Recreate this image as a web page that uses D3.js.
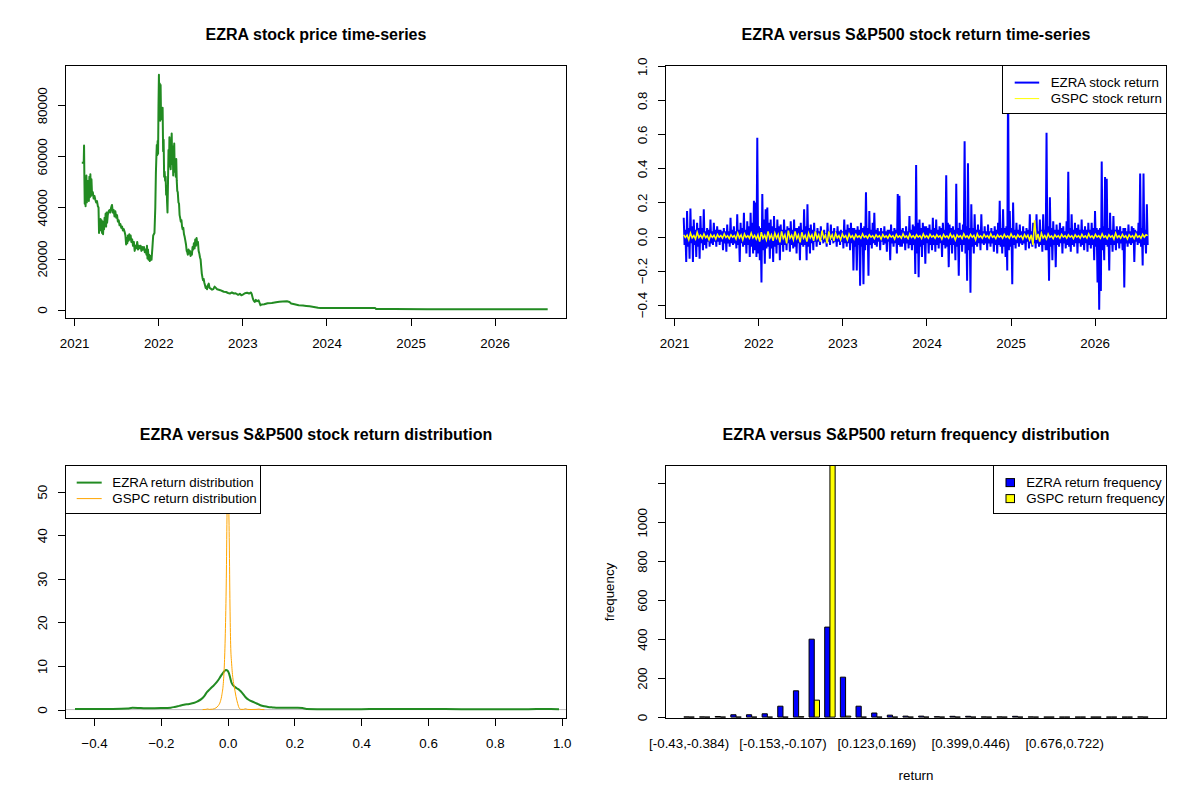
<!DOCTYPE html>
<html lang="en">
<head>
<meta charset="utf-8">
<title>EZRA vs S&amp;P500</title>
<script src="https://cdn.jsdelivr.net/npm/d3@7"></script>
<style>
  body { margin: 0; background: #fff; }
  svg text { font-family: "Liberation Sans", Arial, sans-serif; fill: #000; }
  .tick line { stroke: #000; shape-rendering: crispEdges; }
  .frame { fill: none; stroke: #000; stroke-width: 1; shape-rendering: crispEdges; }
</style>
</head>
<body>
<script>

// ---- data ----

// EZRA price, [decimal year, price]
var priceSeries = [
  [2021.091,57500],[2021.114,57500],[2021.118,64300],[2021.122,51500],[2021.126,41500],[2021.131,46000],
  [2021.136,40500],[2021.141,45500],[2021.146,52500],[2021.151,42000],[2021.157,48500],[2021.163,43000],
  [2021.169,50500],[2021.175,42500],[2021.181,52000],[2021.187,44000],[2021.193,53000],[2021.199,44500],
  [2021.206,51000],[2021.213,45000],[2021.222,46000],[2021.232,43500],[2021.242,44500],[2021.252,43000],
  [2021.262,42000],[2021.272,42500],[2021.282,40500],[2021.290,40000],[2021.296,30000],[2021.302,34000],
  [2021.308,31000],[2021.314,35500],[2021.320,33000],[2021.326,35000],[2021.332,30000],[2021.338,34500],
  [2021.344,29500],[2021.350,34000],[2021.356,31500],[2021.362,36000],[2021.368,33000],[2021.374,37500],
  [2021.380,32500],[2021.386,38000],[2021.392,34000],[2021.400,37000],[2021.410,38500],[2021.420,39000],
  [2021.430,38000],[2021.440,40000],[2021.450,41000],[2021.460,38000],[2021.470,39000],[2021.480,36500],
  [2021.490,38500],[2021.500,36000],[2021.510,37000],[2021.520,34500],[2021.530,35000],[2021.540,33000],
  [2021.550,33500],[2021.560,32000],[2021.570,32500],[2021.580,31000],[2021.590,31500],[2021.600,30500],
  [2021.610,29000],[2021.618,25500],[2021.625,28000],[2021.632,26000],[2021.640,29000],[2021.648,27000],
  [2021.656,29500],[2021.664,27500],[2021.672,29000],[2021.680,26500],[2021.690,27500],[2021.700,25000],
  [2021.710,26500],[2021.720,23000],[2021.730,25000],[2021.740,24000],[2021.750,26500],[2021.760,23500],
  [2021.770,25000],[2021.780,24000],[2021.790,25000],[2021.800,23000],[2021.810,24500],[2021.820,23500],
  [2021.830,24500],[2021.840,22500],[2021.850,23500],[2021.860,21500],[2021.866,25000],[2021.872,20000],
  [2021.878,23500],[2021.885,19500],[2021.892,21500],[2021.900,19000],[2021.910,21000],[2021.920,19500],
  [2021.930,24000],[2021.940,29000],[2021.955,30000],[2021.965,40000],[2021.972,53500],[2021.978,60000],
  [2021.983,64500],[2021.988,60500],[2021.993,66000],[2021.998,61000],[2022.003,80000],[2022.008,92000],
  [2022.013,77000],[2022.018,88500],[2022.023,74000],[2022.028,88000],[2022.033,76000],[2022.040,79000],
  [2022.046,74500],[2022.052,79000],[2022.058,62000],[2022.064,66500],[2022.070,52000],[2022.076,54000],
  [2022.082,50500],[2022.088,52000],[2022.094,45000],[2022.100,48500],[2022.105,42000],[2022.110,38000],
  [2022.116,50000],[2022.122,62500],[2022.128,56000],[2022.133,67500],[2022.138,58000],[2022.143,62000],
  [2022.148,55000],[2022.154,63000],[2022.160,69000],[2022.166,57000],[2022.172,64000],[2022.178,52500],
  [2022.184,60000],[2022.190,65000],[2022.196,54000],[2022.202,59000],[2022.208,52000],[2022.214,59000],
  [2022.220,50500],[2022.226,46500],[2022.232,46000],[2022.240,42000],[2022.247,41500],[2022.254,37000],
  [2022.260,36000],[2022.268,34500],[2022.276,35000],[2022.283,32500],[2022.290,31500],[2022.298,32000],
  [2022.306,29500],[2022.314,28500],[2022.322,27000],[2022.330,25500],[2022.338,23000],[2022.345,22500],
  [2022.352,21500],[2022.360,23500],[2022.368,22000],[2022.376,23000],[2022.384,21000],[2022.392,22500],
  [2022.400,21500],[2022.408,24500],[2022.416,23500],[2022.424,26000],[2022.432,24000],[2022.440,27500],
  [2022.448,25000],[2022.456,28000],[2022.464,25500],[2022.472,26500],[2022.480,23000],[2022.488,22000],
  [2022.496,20500],[2022.504,19500],[2022.510,17000],[2022.518,14000],[2022.526,12500],[2022.533,11500],
  [2022.540,12000],[2022.548,10500],[2022.556,9500],[2022.564,8500],[2022.572,9000],[2022.580,8000],
  [2022.590,9500],[2022.600,10200],[2022.610,8500],[2022.624,8200],[2022.640,7800],[2022.655,8000],
  [2022.670,9000],[2022.685,8500],[2022.700,8000],[2022.720,7800],[2022.738,7600],[2022.760,7300],
  [2022.780,7000],[2022.806,6900],[2022.830,6500],[2022.852,6300],[2022.875,6700],[2022.900,6300],
  [2022.920,6400],[2022.950,5800],[2022.970,6200],[2022.988,5600],[2023.010,6000],[2023.030,6400],
  [2023.056,6600],[2023.080,6300],[2023.102,6700],[2023.112,6000],[2023.125,4300],[2023.135,3500],
  [2023.147,3000],[2023.160,3800],[2023.175,3300],[2023.193,3650],[2023.205,2600],[2023.216,1700],
  [2023.230,2000],[2023.260,2100],[2023.300,2500],[2023.350,2600],[2023.400,2900],[2023.440,3100],
  [2023.480,3200],[2023.530,3250],[2023.560,3000],[2023.580,2400],[2023.620,2100],[2023.670,1700],
  [2023.720,1600],[2023.760,1450],[2023.800,1300],[2023.850,1050],[2023.900,700],[2023.930,600],
  [2024.000,650],[2024.200,640],[2024.400,620],[2024.580,600],[2024.590,250],[2024.800,200],
  [2025.200,180],[2025.600,170],[2026.000,150],[2026.300,140],[2026.630,130]
];

// returns, evenly spaced trading days between first and last date
var returnStart = 2021.114, returnEnd = 2026.63;
var ezraReturns = [
  0.11,-0.05,0.04,-0.15,0.15,-0.06,0.05,-0.13,0.165,-0.04,0.06,-0.15,0.1,-0.05,0.04,-0.12,0.08,-0.06,0.05,-0.13,
  0.12,-0.04,0.05,-0.08,0.16,-0.05,0.03,-0.07,0.05,-0.03,0.04,-0.06,0.1,-0.04,0.03,-0.05,0.08,-0.03,0.04,-0.06,
  0.06,-0.03,0.04,-0.05,0.04,-0.03,0.03,-0.08,0.05,-0.04,0.03,-0.09,0.07,-0.04,0.03,-0.06,0.11,-0.04,0.04,-0.05,
  0.06,-0.04,0.03,-0.07,0.13,-0.05,0.04,-0.15,0.08,-0.04,0.05,-0.06,0.14,-0.05,0.04,-0.1,0.09,-0.05,0.06,-0.12,
  0.14,-0.06,0.08,-0.1,0.21,-0.08,0.2,-0.12,0.58,-0.1,0.06,-0.14,0.05,-0.27,0.25,-0.08,0.1,-0.16,0.16,-0.07,
  0.17,-0.06,0.08,-0.13,0.1,-0.07,0.06,-0.15,0.12,-0.06,0.05,-0.1,0.1,-0.05,0.06,-0.14,0.07,-0.05,0.04,-0.09,
  0.1,-0.05,0.04,-0.08,0.06,-0.04,0.05,-0.09,0.09,-0.05,0.04,-0.07,0.1,-0.06,0.05,-0.1,0.05,-0.04,0.06,-0.14,
  0.08,-0.05,0.04,-0.06,0.16,-0.05,0.06,-0.14,0.19,-0.06,0.05,-0.1,0.07,-0.04,0.04,-0.08,0.08,-0.03,0.03,-0.06,
  0.05,-0.03,0.03,-0.05,0.06,-0.02,0.03,-0.04,0.04,-0.03,0.02,-0.06,0.08,-0.03,0.03,-0.05,0.07,-0.02,0.03,-0.04,
  0.05,-0.03,0.03,-0.06,0.06,-0.03,0.03,-0.05,0.04,-0.03,0.03,-0.07,0.1,-0.04,0.04,-0.06,0.07,-0.04,0.05,-0.08,
  0.08,-0.04,0.05,-0.2,0.05,-0.06,0.04,-0.2,0.06,-0.05,0.04,-0.29,0.08,-0.06,0.05,-0.28,0.06,-0.08,0.26,-0.05,
  0.05,-0.23,0.15,-0.05,0.04,-0.07,0.08,-0.04,0.14,-0.05,0.04,-0.06,0.05,-0.03,0.03,-0.08,0.05,-0.03,0.03,-0.05,
  0.06,-0.04,0.03,-0.09,0.04,-0.03,0.04,-0.14,0.07,-0.04,0.03,-0.06,0.05,-0.04,0.04,-0.1,0.25,-0.05,0.24,-0.06,
  0.04,-0.06,0.05,-0.04,0.03,-0.08,0.06,-0.04,0.03,-0.07,0.12,-0.05,0.04,-0.08,0.07,-0.05,0.06,-0.22,0.42,-0.1,
  0.08,-0.24,0.1,-0.06,0.05,-0.12,0.08,-0.05,0.06,-0.16,0.06,-0.04,0.05,-0.1,0.07,-0.05,0.04,-0.08,0.11,-0.05,
  0.05,-0.09,0.1,-0.05,0.04,-0.07,0.06,-0.04,0.05,-0.12,0.08,-0.05,0.04,-0.07,0.36,-0.06,0.08,-0.18,0.07,-0.05,
  0.05,-0.1,0.06,-0.05,0.04,-0.14,0.31,-0.06,0.05,-0.23,0.08,-0.05,0.04,-0.09,0.07,-0.05,0.56,-0.1,0.06,-0.26,
  0.43,-0.08,0.05,-0.33,0.19,-0.06,0.05,-0.1,0.13,-0.05,0.04,-0.06,0.07,-0.04,0.04,-0.08,0.13,-0.04,0.03,-0.05,
  0.06,-0.04,0.03,-0.08,0.07,-0.04,0.03,-0.06,0.05,-0.04,0.03,-0.09,0.06,-0.05,0.04,-0.1,0.08,-0.05,0.21,-0.06,
  0.05,-0.1,0.16,-0.06,0.05,-0.12,0.06,-0.2,0.95,-0.08,0.15,-0.06,0.05,-0.28,0.2,-0.05,0.04,-0.07,0.08,-0.04,
  0.04,-0.06,0.07,-0.04,0.03,-0.05,0.06,-0.04,0.03,-0.08,0.05,-0.03,0.04,-0.07,0.13,-0.04,0.03,-0.06,0.08,-0.04,
  0.04,-0.07,0.13,-0.04,0.03,-0.06,0.1,-0.05,0.04,-0.09,0.13,-0.05,0.04,-0.08,0.61,-0.08,0.06,-0.26,0.23,-0.06,
  0.05,-0.14,0.09,-0.05,0.04,-0.18,0.07,-0.05,0.04,-0.06,0.08,-0.04,0.05,-0.1,0.06,-0.04,0.03,-0.07,0.09,-0.05,
  0.38,-0.06,0.05,-0.09,0.13,-0.05,0.04,-0.06,0.08,-0.04,0.05,-0.1,0.07,-0.04,0.04,-0.06,0.1,-0.05,0.04,-0.08,
  0.06,-0.04,0.04,-0.09,0.08,-0.05,0.04,-0.07,0.08,-0.05,0.05,-0.14,0.15,-0.06,0.05,-0.27,0.04,-0.43,0.05,-0.32,
  0.44,-0.08,0.06,-0.14,0.35,-0.05,0.34,-0.06,0.05,-0.2,0.14,-0.05,0.04,-0.09,0.12,-0.05,0.04,-0.08,0.06,-0.04,
  0.04,-0.07,0.06,-0.04,0.03,-0.08,0.05,-0.3,0.05,-0.04,0.03,-0.06,0.07,-0.04,0.03,-0.05,0.06,-0.04,0.05,-0.15,
  0.04,-0.03,0.03,-0.05,0.08,-0.04,0.37,-0.06,0.05,-0.17,0.37,-0.05,0.04,-0.1,0.19,-0.05
];
var gspcReturns = [
  0.01,-0.005,0.008,-0.02,0.02,-0.008,0.006,-0.015,0.025,-0.006,0.008,-0.01,0.015,-0.007,0.005,-0.02,0.01,-0.006,0.007,-0.015,0.012,-0.005,
  0.006,-0.01,0.015,-0.006,0.005,-0.012,0.01,-0.005,0.006,-0.015,0.02,-0.008,0.01,-0.02,0.015,-0.006,0.005,-0.01,0.02,-0.008,0.007,-0.015,
  0.01,-0.03,0.025,-0.01,0.008,-0.02,0.03,-0.012,0.01,-0.025,0.02,-0.01,0.012,-0.035,0.03,-0.012,0.01,-0.04,0.035,-0.01,0.008,-0.02,0.03,-0.012,0.01,
  -0.035,0.025,-0.01,0.008,-0.03,0.02,-0.008,0.01,-0.025,0.03,-0.012,0.01,-0.03,0.035,-0.01,0.008,-0.04,0.03,-0.012,0.01,-0.025,0.02,-0.008,0.006,-0.02,
  0.015,-0.006,0.005,-0.02,0.015,-0.006,0.005,-0.015,0.012,-0.005,0.004,-0.01,0.015,-0.005,0.004,-0.01,0.01,-0.004,0.005,-0.012,0.01,-0.004,0.005,-0.015,0.012,
  -0.005,0.004,-0.01,0.01,-0.004,0.005,-0.015,0.012,-0.005,0.004,-0.01,0.015,-0.005,0.004,-0.012,0.015,-0.006,0.005,-0.01,0.01,-0.004,0.005,-0.012,0.015,-0.005,
  0.005,-0.01,0.012,-0.004,0.005,-0.01,0.01,-0.004,0.005,-0.015,0.012,-0.005,0.004,-0.01,0.015,-0.005,0.006,-0.02,0.01,-0.004,0.005,-0.012,0.015,-0.005,0.004,
  -0.01,0.012,-0.005,0.006,-0.02,0.015,-0.005,0.004,-0.01,0.012,-0.004,0.005,-0.01,0.015,-0.005,0.004,-0.012,0.01,-0.004,0.005,-0.01,0.012,-0.005,0.004,-0.01,
  0.015,-0.005,0.004,-0.012,0.01,-0.004,0.005,-0.015,0.012,-0.006,0.008,-0.02,0.01,-0.05,0.095,-0.02,0.015,-0.03,0.02,-0.008,0.006,-0.015,0.015,-0.005,0.004,
  -0.012,0.01,-0.004,0.005,-0.01,0.012,-0.004,0.005,-0.01,0.01,-0.004,0.005,-0.012,0.01,-0.004,0.005,-0.01,0.012,-0.005,0.004,-0.01,0.015,-0.005,0.004,-0.01,
  0.012,-0.004,0.005,-0.01,0.015,-0.005,0.004,-0.012,0.01,-0.004,0.005,-0.015,0.02,-0.006,0.005,-0.01,
  0.012,-0.005,0.004,-0.015,0.01,-0.004,0.005,-0.012,0.015,-0.005,0.004,-0.01,0.012,-0.004,0.01,0.005
];

// kernel densities, [return, density]
var ezraDensity = [
  [-0.457,0.15],[-0.40,0.12],[-0.35,0.15],[-0.30,0.25],[-0.285,0.4],[-0.26,0.35],[-0.234,0.3],[-0.20,0.35],
  [-0.17,0.45],[-0.159,0.6],[-0.145,0.85],[-0.131,1.1],[-0.115,1.3],[-0.102,1.5],[-0.09,1.9],[-0.079,2.4],
  [-0.07,3.1],[-0.062,4.0],[-0.053,4.7],[-0.045,5.3],[-0.036,6.0],[-0.028,6.8],[-0.022,7.5],[-0.016,8.2],
  [-0.01,8.8],[-0.005,9.1],[0.0,8.9],[0.004,8.3],[0.008,7.2],[0.012,6.1],[0.016,5.6],[0.02,5.3],
  [0.027,4.9],[0.035,4.5],[0.044,3.8],[0.053,2.9],[0.064,2.2],[0.075,1.8],[0.087,1.4],[0.098,1.0],
  [0.11,0.75],[0.121,0.6],[0.135,0.5],[0.15,0.42],[0.18,0.4],[0.21,0.4],[0.224,0.35],[0.236,0.15],
  [0.30,0.1],[0.40,0.1],[0.45,0.15],[0.55,0.12],[0.60,0.12],[0.70,0.1],[0.80,0.1],[0.90,0.1],
  [0.95,0.12],[0.992,0.1]
];
var gspcDensity = [
  [-0.075,0],[-0.065,0.05],[-0.06,0.15],[-0.055,0.05],[-0.045,0.1],[-0.035,0.4],[-0.028,0.9],[-0.022,1.8],
  [-0.017,3.5],[-0.013,6.0],[-0.01,10],[-0.007,17.4],[-0.004,30],[-0.002,44],[0.0,52],[0.001,53.9],
  [0.003,48],[0.005,38],[0.007,24],[0.009,15],[0.012,10.5],[0.016,7],[0.02,5.2],[0.025,3],
  [0.03,1.4],[0.035,0.3],[0.04,0.05],[0.047,0.05],[0.053,0.2],[0.06,0.05],[0.07,0.02],[0.085,0.05],
  [0.094,0.12],[0.1,0.02],[0.11,0]
];

// frequency table
var binLabels = [
  "[-0.43,-0.384)","[-0.384,-0.338)","[-0.338,-0.292)","[-0.292,-0.246)","[-0.246,-0.2)","[-0.2,-0.153)",
  "[-0.153,-0.107)","[-0.107,-0.0612)","[-0.0612,-0.0151)","[-0.0151,0.031)","[0.031,0.0771)","[0.0771,0.123)",
  "[0.123,0.169)","[0.169,0.215)","[0.215,0.261)","[0.261,0.307)","[0.307,0.353)","[0.353,0.399)",
  "[0.399,0.446)","[0.446,0.492)","[0.492,0.538)","[0.538,0.584)","[0.584,0.63)","[0.63,0.676)",
  "[0.676,0.722)","[0.722,0.768)","[0.768,0.814)","[0.814,0.86)","[0.86,0.906)","[0.906,0.953]"
];
var ezraFreq = [1,1,3,12,12,17,56,135,400,462,205,56,21,10,5,5,2,4,4,1,1,4,1,0,0,0,0,0,0,1];
var gspcFreq = [0,0,0,0,0,0,0,2,87,1335,5,0,0,0,0,0,0,0,0,0,0,0,0,0,0,0,0,0,0,0];

var yearTicks = [2021,2022,2023,2024,2025,2026];
var priceTicks = [0,20000,40000,60000,80000];
var returnTicks = [-0.4,-0.2,0,0.2,0.4,0.6,0.8,1.0];
var densityYTicks = [0,10,20,30,40,50];
var densityXTicks = [-0.4,-0.2,0,0.2,0.4,0.6,0.8,1.0];
var freqTicks = [0,200,400,600,800,1000,1200];
var freqTickLabels = ["0","200","400","600","800","1000",""];

// ---- layout ----
var w = 1200, h = 800;
var FS = 13.33;

var svg = d3.select("body").append("svg")
  .attr("width", w).attr("height", h)
  .style("display", "block");
svg.append("rect").attr("width", w).attr("height", h).attr("fill", "#fff");

function panel(cx, cy, id) {
  var p = { x0: cx + 65.3, x1: cx + 566.7, y0: cy + 65.3, y1: cy + 318.7, cx: cx, cy: cy, id: id };
  svg.append("clipPath").attr("id", id)
    .append("rect").attr("x", p.x0).attr("y", p.y0)
    .attr("width", p.x1 - p.x0).attr("height", p.y1 - p.y0);
  return p;
}

function title(p, txt) {
  svg.append("text")
    .attr("x", (p.x0 + p.x1) / 2).attr("y", p.cy + 40)
    .attr("text-anchor", "middle")
    .style("font-size", "16px").style("font-weight", "bold")
    .text(txt);
}

function frame(p) {
  svg.append("rect").attr("class", "frame")
    .attr("x", p.x0).attr("y", p.y0)
    .attr("width", p.x1 - p.x0).attr("height", p.y1 - p.y0);
}

function bottomAxis(p, scale, ticks, fmt) {
  var g = svg.append("g")
    .attr("transform", "translate(0," + p.y1 + ")")
    .call(d3.axisBottom(scale).tickValues(ticks).tickFormat(fmt)
      .tickSize(7.5).tickSizeOuter(0).tickPadding(12.6));
  g.select(".domain").remove();
  g.attr("font-family", null).attr("font-size", null);
  g.selectAll(".tick text").style("font-size", FS + "px");
  return g;
}

function leftAxis(p, scale, ticks, fmt) {
  var g = svg.append("g")
    .attr("transform", "translate(" + p.x0 + ",0)")
    .call(d3.axisLeft(scale).tickValues(ticks).tickFormat(fmt)
      .tickSize(7.5).tickSizeOuter(0));
  g.select(".domain").remove();
  g.attr("font-family", null).attr("font-size", null);
  g.selectAll(".tick text")
    .attr("x", null).attr("dy", null)
    .attr("text-anchor", "middle")
    .attr("transform", "translate(-18.7,0) rotate(-90)")
    .style("font-size", FS + "px");
  return g;
}

function legendBox(x0, y0, x1, y1) {
  svg.append("rect").attr("x", x0).attr("y", y0)
    .attr("width", x1 - x0).attr("height", y1 - y0)
    .attr("fill", "#fff").attr("stroke", "#000").attr("stroke-width", 1)
    .style("shape-rendering", "crispEdges");
}
function legendText(x, y, txt) {
  svg.append("text").attr("x", x).attr("y", y).attr("dy", "0.35em")
    .style("font-size", FS + "px").text(txt);
}

var fmt1 = d3.format(".1f");
function yearFmt(d) { return String(d); }

// ---- 1. price time-series ----
var p1 = panel(0, 0, "clip1");
var xYear1 = d3.scaleLinear().domain([2020.895, 2026.856]).range([p1.x0, p1.x1]);
var yPrice = d3.scaleLinear().domain([-3560, 95670]).range([p1.y1, p1.y0]);

svg.append("path")
  .datum(priceSeries)
  .attr("clip-path", "url(#clip1)")
  .attr("fill", "none").attr("stroke", "#228B22").attr("stroke-width", 2)
  .attr("stroke-linejoin", "round")
  .attr("d", d3.line().x(function(d){ return xYear1(d[0]); }).y(function(d){ return yPrice(d[1]); }));

frame(p1);
bottomAxis(p1, xYear1, yearTicks, yearFmt);
leftAxis(p1, yPrice, priceTicks, function(d){ return String(d); });
title(p1, "EZRA stock price time-series");

// ---- 2. return time-series ----
var p2 = panel(600, 0, "clip2");
var xYear2 = d3.scaleLinear().domain([2020.895, 2026.856]).range([p2.x0, p2.x1]);
var yRet = d3.scaleLinear().domain([-0.483, 1.006]).range([p2.y1, p2.y0]);

function retLine(values) {
  var step = (returnEnd - returnStart) / (values.length - 1);
  return d3.line()
    .x(function(d, i){ return xYear2(returnStart + i * step); })
    .y(function(d){ return yRet(d); })(values);
}

svg.append("path")
  .attr("clip-path", "url(#clip2)")
  .attr("fill", "none").attr("stroke", "#0000FF").attr("stroke-width", 2)
  .attr("d", retLine(ezraReturns));
svg.append("path")
  .attr("clip-path", "url(#clip2)")
  .attr("fill", "none").attr("stroke", "#FFFF00").attr("stroke-width", 1.5)
  .attr("d", retLine(gspcReturns));

frame(p2);
bottomAxis(p2, xYear2, yearTicks, yearFmt);
leftAxis(p2, yRet, returnTicks, fmt1);
title(p2, "EZRA versus S&P500 stock return time-series");

legendBox(1002.8, 65.3, 1166.7, 113.6);
svg.append("line").attr("x1", 1014.7).attr("x2", 1039.2).attr("y1", 82.6).attr("y2", 82.6)
  .attr("stroke", "#0000FF").attr("stroke-width", 2);
svg.append("line").attr("x1", 1014.7).attr("x2", 1039.2).attr("y1", 98.6).attr("y2", 98.6)
  .attr("stroke", "#FFFF00").attr("stroke-width", 1);
legendText(1050.7, 82.6, "EZRA stock return");
legendText(1050.7, 98.6, "GSPC stock return");

// ---- 3. return distribution ----
var p3 = panel(0, 400, "clip3");
var xDen = d3.scaleLinear().domain([-0.486, 1.015]).range([p3.x0, p3.x1]);
var yDen = d3.scaleLinear().domain([-2.09, 56.06]).range([p3.y1, p3.y0]);

svg.append("line")
  .attr("x1", p3.x0).attr("x2", p3.x1)
  .attr("y1", yDen(0)).attr("y2", yDen(0))
  .attr("stroke", "#BEBEBE").attr("stroke-width", 1);

var denLine = d3.line()
  .x(function(d){ return xDen(d[0]); })
  .y(function(d){ return yDen(d[1]); })
  .curve(d3.curveMonotoneX);

svg.append("path").datum(ezraDensity)
  .attr("clip-path", "url(#clip3)")
  .attr("fill", "none").attr("stroke", "#228B22").attr("stroke-width", 2)
  .attr("d", denLine);
svg.append("path").datum(gspcDensity)
  .attr("clip-path", "url(#clip3)")
  .attr("fill", "none").attr("stroke", "#FFA500").attr("stroke-width", 1)
  .attr("d", denLine);

frame(p3);
bottomAxis(p3, xDen, densityXTicks, fmt1);
leftAxis(p3, yDen, densityYTicks, function(d){ return String(d); });
title(p3, "EZRA versus S&P500 stock return distribution");

legendBox(65.3, 465.3, 260.3, 513.6);
svg.append("line").attr("x1", 76.7).attr("x2", 101.7).attr("y1", 482.6).attr("y2", 482.6)
  .attr("stroke", "#228B22").attr("stroke-width", 2);
svg.append("line").attr("x1", 76.7).attr("x2", 101.7).attr("y1", 498.6).attr("y2", 498.6)
  .attr("stroke", "#FFA500").attr("stroke-width", 1);
legendText(112.3, 482.6, "EZRA return distribution");
legendText(112.3, 498.6, "GSPC return distribution");

// ---- 4. return frequency (grouped bars) ----
var p4 = panel(600, 400, "clip4");
// barplot units: each bin = gap 1 + two bars of width 1
var xBar = d3.scaleLinear().domain([-2.56, 93.56]).range([p4.x0, p4.x1]);
var yBar = d3.scaleLinear().domain([-8.2, 1292.5]).range([p4.y1, p4.y0]);

var bars = [];
ezraFreq.forEach(function(v, k){ bars.push({ k: k, s: 0, v: v }); });
gspcFreq.forEach(function(v, k){ bars.push({ k: k, s: 1, v: v }); });

svg.append("g").attr("clip-path", "url(#clip4)")
  .selectAll("path").data(bars).enter().append("path")
  .attr("d", function(d){
    var xa = xBar(3 * d.k + 1 + d.s), xb = xBar(3 * d.k + 2 + d.s);
    var ya = yBar(0), yb = yBar(d.v);
    return "M" + xa + "," + ya + "H" + xb + "V" + yb + "H" + xa + "Z";
  })
  .attr("fill", function(d){ return d.s === 0 ? "#0000FF" : "#FFFF00"; })
  .attr("stroke", "#000").attr("stroke-width", 1);

frame(p4);

// bin labels: R drops the ones that would overlap, leaving every 6th
svg.append("g").selectAll("text")
  .data(binLabels.filter(function(d, k){ return k % 6 === 0; }))
  .enter().append("text")
  .attr("x", function(d, i){ return xBar(3 * (i * 6) + 2); })
  .attr("y", p4.y1 + 29.6)
  .attr("text-anchor", "middle")
  .style("font-size", FS + "px")
  .text(function(d){ return d; });

leftAxis(p4, yBar, freqTicks, function(d, i){ return freqTickLabels[i]; });
title(p4, "EZRA versus S&P500 return frequency distribution");

svg.append("text")
  .attr("x", (p4.x0 + p4.x1) / 2).attr("y", 780)
  .attr("text-anchor", "middle").style("font-size", FS + "px")
  .text("return");
svg.append("text")
  .attr("transform", "translate(613.5," + ((p4.y0 + p4.y1) / 2) + ") rotate(-90)")
  .attr("text-anchor", "middle").style("font-size", FS + "px")
  .text("frequency");

legendBox(993.7, 465.3, 1166.7, 513.6);
svg.append("rect").attr("x", 1006).attr("y", 482.6 - 4).attr("width", 8.5).attr("height", 8)
  .attr("fill", "#0000FF").attr("stroke", "#000").attr("stroke-width", 1);
svg.append("rect").attr("x", 1006).attr("y", 498.6 - 4).attr("width", 8.5).attr("height", 8)
  .attr("fill", "#FFFF00").attr("stroke", "#000").attr("stroke-width", 1);
legendText(1026.2, 482.6, "EZRA return frequency");
legendText(1026.2, 498.6, "GSPC return frequency");

</script>
</body>
</html>
